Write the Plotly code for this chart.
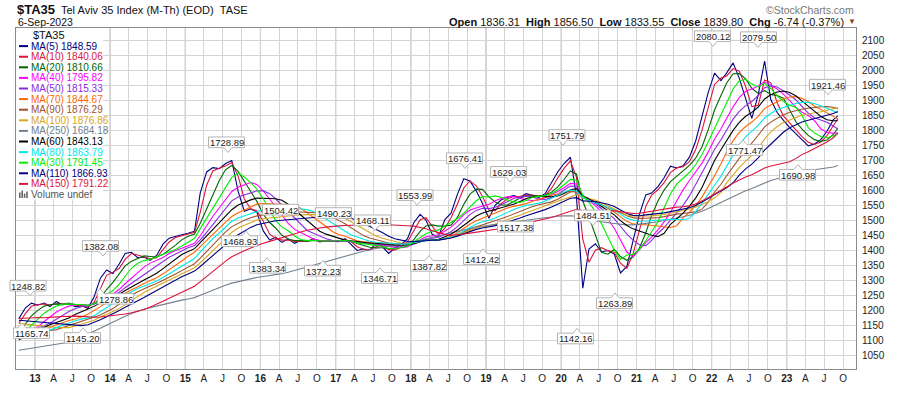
import numpy as np
import pandas as pd
import plotly.graph_objects as go

# ------------------------------------------------------------------ data
# Monthly readings of the index level (read off the MA(5) line), Oct-2012 .. Sep-2023
idx_2012 = [1175, 1212, 1225]                                   # Oct-Dec
idx_2013 = [1215, 1225, 1210, 1232, 1215, 1225, 1210, 1215, 1205, 1250, 1315, 1337]
idx_2014 = [1320, 1360, 1393, 1393, 1372, 1378, 1364, 1385, 1425, 1442, 1447, 1452]
idx_2015 = [1457, 1464, 1610, 1668, 1676, 1671, 1690, 1700, 1580, 1522, 1540, 1525]
idx_2016 = [1455, 1430, 1445, 1423, 1440, 1420, 1435, 1428, 1440, 1425, 1432, 1430]
idx_2017 = [1428, 1440, 1418, 1396, 1405, 1400, 1425, 1410, 1386, 1410, 1420, 1440]
idx_2018 = [1499, 1522, 1497, 1445, 1445, 1510, 1525, 1595, 1644, 1628, 1592, 1550]
idx_2019 = [1500, 1558, 1568, 1578, 1582, 1575, 1590, 1580, 1575, 1590, 1630, 1665]
idx_2020 = [1692, 1712, 1560, 1230, 1430, 1420, 1390, 1400, 1385, 1315, 1350, 1445]
idx_2021 = [1530, 1592, 1590, 1615, 1645, 1685, 1672, 1682, 1714, 1770, 1855, 1935]
idx_2022 = [1998, 1960, 1995, 2028, 1965, 1900, 1830, 1930, 2045, 1880, 1855, 1830]
idx_2023 = [1805, 1785, 1765, 1745, 1755, 1770, 1800, 1840, 1848.59]  # Jan-Sep

# Estimated earlier history (Nov-2007 .. Sep-2012, left of the visible window),
# needed so that the long averages start where the picture shows them
pre_2007 = [1080, 1090]
pre_2008 = [1020, 1030, 990, 1060, 1090, 1040, 990, 1000, 900, 700, 700, 670]
pre_2009 = [680, 690, 720, 780, 850, 870, 930, 960, 1020, 1060, 1080, 1110]
pre_2010 = [1200, 1180, 1230, 1250, 1150, 1150, 1180, 1190, 1230, 1270, 1280, 1280]
pre_2011 = [1290, 1250, 1240, 1290, 1280, 1230, 1220, 1090, 1050, 1100, 1070, 1080]
pre_2012 = [1090, 1130, 1130, 1110, 1050, 1070, 1090, 1120, 1150]

ma_periods = [5, 10, 20, 40, 50, 70, 90, 100, 250, 60, 80, 30, 110, 150]   # weeks
ma_last = ["1848.59", "1840.06", "1810.66", "1795.82", "1815.33", "1844.67", "1876.29",
           "1876.86", "1684.18", "1843.13", "1863.79", "1791.45", "1866.93", "1791.22"]
ma_colors = ["#000080", "#DC143C", "#006400", "#FF00FF", "#8A2BE2", "#FF6600", "#A0522D",
             "#DAA520", "#708090", "#000000", "#00E8E8", "#00EE00", "#000080", "#DC143C"]

price_labels = ["1248.82", "1165.74", "1145.20", "1382.08", "1278.86", "1728.89", "1468.93",
                "1504.42", "1383.34", "1490.23", "1372.23", "1468.11", "1346.71", "1553.99",
                "1387.82", "1676.41", "1412.42", "1629.03", "1517.38", "1751.79", "1142.16",
                "1484.51", "1263.89", "2080.12", "1771.47", "2079.50", "1690.98", "1921.46"]

y_ticks = list(range(1050, 2101, 50))
quote_names = ["Open", "High", "Low", "Close"]
quote_values = ["1836.31", "1856.50", "1833.55", "1839.80"]
chg_text = "-6.74 (-0.37%)"

# ------------------------------------------------------------------ series
pre = pre_2007 + pre_2008 + pre_2009 + pre_2010 + pre_2011 + pre_2012
chart = idx_2012 + idx_2013 + idx_2014 + idx_2015 + idx_2016 + idx_2017 + idx_2018 + \
        idx_2019 + idx_2020 + idx_2021 + idx_2022 + idx_2023
vals = np.array(pre + chart, dtype=float)
months = pd.date_range("2007-11-01", periods=len(vals), freq="MS") + pd.Timedelta(days=14)
dates = list(months)
dates[-1] = pd.Timestamp("2023-09-06")
n_pre = len(pre)


def moving_avg(v, weeks):
    w = weeks * 7 / 30.4375          # window in months
    n = int(np.floor(w))
    f = w - n
    out = np.full(len(v), np.nan)
    for i in range(len(v)):
        if i - n < 0:
            continue
        s = v[i - n + 1:i + 1].sum() + (f * v[i - n] if f > 0 else 0.0)
        out[i] = s / w
    return out


fig = go.Figure()
for p, c in zip(ma_periods, ma_colors):
    ma = moving_avg(vals, p)
    fig.add_trace(go.Scatter(x=dates[n_pre:], y=ma[n_pre:], mode="lines",
                             line=dict(color=c, width=1.1), showlegend=False,
                             hoverinfo="skip"))

# ------------------------------------------------------------------ layout helpers
PL, PR, PT, PB = 16, 856, 28, 380
W, H = 900, 396


def xp(px):
    return (px - PL) / (PR - PL)


def yp(py):
    return (PB - py) / (PB - PT)


FONT = "Liberation Sans, Arial, sans-serif"
shapes = []
annots = []

# year separators (darker)
for yr in range(2013, 2024):
    shapes.append(dict(type="line", xref="x", yref="paper", x0=f"{yr}-01-01", x1=f"{yr}-01-01",
                       y0=0, y1=1, line=dict(color="#a8a8a8", width=1), layer="between"))

# legend background
shapes.append(dict(type="rect", xref="paper", yref="paper", x0=xp(PL + 0.5), x1=xp(103),
                   y0=yp(205), y1=yp(PT + 0.5), fillcolor="white", line=dict(width=0),
                   layer="above"))
annots.append(dict(x=xp(31), y=yp(35), xref="paper", yref="paper", text="$TA35",
                   showarrow=False, xanchor="left", yanchor="middle",
                   font=dict(family=FONT, size=11, color="#111")))
for k, (p, c, last) in enumerate(zip(ma_periods, ma_colors, ma_last)):
    cy = 46.7 + 10.94 * k
    shapes.append(dict(type="line", xref="paper", yref="paper", x0=xp(19), x1=xp(28),
                       y0=yp(cy), y1=yp(cy), line=dict(color=c, width=2), layer="above"))
    annots.append(dict(x=xp(28.5), y=yp(cy), xref="paper", yref="paper",
                       text=f"MA({p}) {last}", showarrow=False, xanchor="left",
                       yanchor="middle", font=dict(family=FONT, size=10, color=c)))
vol_y = 46.7 + 10.94 * 14
for (a, b, top) in [(19, 20.6, vol_y - 2), (21.4, 23, vol_y - 4), (23.8, 25.4, vol_y - 1),
                    (26.2, 27.8, vol_y - 3)]:
    shapes.append(dict(type="rect", xref="paper", yref="paper", x0=xp(a), x1=xp(b),
                       y0=yp(vol_y + 3.5), y1=yp(top), fillcolor="#666", line=dict(width=0),
                       layer="above"))
annots.append(dict(x=xp(28.5), y=yp(vol_y), xref="paper", yref="paper", text="Volume undef",
                   showarrow=False, xanchor="left", yanchor="middle",
                   font=dict(family=FONT, size=10, color="#555")))

# price callouts: centre (px, py), pointer x, pointer direction
label_pos = [(28, 294, 30, "down"), (31.5, 343, 22, "up"), (82.5, 348, 83, "up"),
             (100.5, 253, 103, "down"), (115.5, 307.5, 100, "up"), (226.5, 146, 228, "down"),
             (239.5, 248, 246, "up"), (280.5, 215.5, None, None), (267.5, 275.5, 267, "up"),
             (333.5, 219, None, None), (322.5, 278.5, 323, "up"), (372.5, 226.5, 375, "down"),
             (379.5, 286, 380, "up"), (415, 200.5, 417, "down"), (428.5, 273.5, 429, "up"),
             (464.5, 162.5, 465, "down"), (481.5, 266.5, 483, "up"), (508.5, 176.5, 510, "down"),
             (515.5, 233, None, None), (567, 138.5, 563, "down"), (575.5, 348.5, 577, "up"),
             (592.5, 221.5, 593, "down"), (614.5, 312, 615, "up"), (712.5, 36.5, 713, "down"),
             (744.5, 154, 743, "up"), (758.5, 37.5, 758, "down"), (797.5, 179.5, 798, "up"),
             (827.5, 86.5, 828, "down")]
for txt, (cx, cy, ptr, d) in zip(price_labels, label_pos):
    bw, bh = 36, 11
    x0, x1 = cx - bw / 2, cx + bw / 2
    y0, y1 = cy - bh / 2, cy + bh / 2
    pts = [(x0, y0)]
    if d == "up":
        pts += [(ptr - 4, y0), (ptr, y0 - 5), (ptr + 4, y0)]
    pts += [(x1, y0), (x1, y1)]
    if d == "down":
        pts += [(ptr + 4, y1), (ptr, y1 + 5), (ptr - 4, y1)]
    pts += [(x0, y1)]
    path = "M " + " L ".join(f"{xp(a):.5f},{yp(b):.5f}" for a, b in pts) + " Z"
    shapes.append(dict(type="path", xref="paper", yref="paper", path=path,
                       fillcolor="white", line=dict(color="#b4b4b4", width=1), layer="above"))
    annots.append(dict(x=xp(cx), y=yp(cy + 0.5), xref="paper", yref="paper", text=txt,
                       showarrow=False, xanchor="center", yanchor="middle",
                       font=dict(family=FONT, size=9.5, color="#222")))

# header
annots.append(dict(x=xp(15), y=yp(9), xref="paper", yref="paper", text="<b>$TA35</b>",
                   showarrow=False, xanchor="left", yanchor="middle",
                   font=dict(family=FONT, size=13, color="#111")))
annots.append(dict(x=xp(59), y=yp(9.5), xref="paper", yref="paper",
                   text="Tel Aviv 35 Index (M-Th) (EOD)&nbsp;&nbsp;TASE",
                   showarrow=False, xanchor="left", yanchor="middle",
                   font=dict(family=FONT, size=11, color="#111")))
annots.append(dict(x=xp(16), y=yp(22), xref="paper", yref="paper", text="6-Sep-2023",
                   showarrow=False, xanchor="left", yanchor="middle",
                   font=dict(family=FONT, size=10.5, color="#111")))
annots.append(dict(x=xp(856), y=yp(9), xref="paper", yref="paper", text="©StockCharts.com",
                   showarrow=False, xanchor="right", yanchor="middle",
                   font=dict(family=FONT, size=10.5, color="#777")))
quote = "&nbsp;&nbsp;".join(f"<b>{n}</b> {v}" for n, v in zip(quote_names, quote_values))
quote += f"&nbsp;&nbsp;<b>Chg</b> {chg_text}"
annots.append(dict(x=xp(846), y=yp(21.5), xref="paper", yref="paper", text=quote,
                   showarrow=False, xanchor="right", yanchor="middle",
                   font=dict(family=FONT, size=11, color="#111")))
annots.append(dict(x=xp(852), y=yp(21.5), xref="paper", yref="paper", text="▼",
                   showarrow=False, xanchor="center", yanchor="middle",
                   font=dict(family=FONT, size=8, color="#8B4513")))

# x ticks: quarters
qdates = pd.date_range("2013-01-01", "2023-10-01", freq="QS")
qtext = [f"<b>{d.year % 100:02d}</b>" if d.month == 1 else {4: "A", 7: "J", 10: "O"}[d.month]
         for d in qdates]

fig.update_layout(
    width=W, height=H,
    margin=dict(l=PL, r=W - PR, t=PT, b=H - PB),
    paper_bgcolor="white", plot_bgcolor="white",
    showlegend=False,
    shapes=shapes, annotations=annots,
    xaxis=dict(type="date", range=["2012-10-01", "2023-12-03"], tickvals=list(qdates),
               ticktext=qtext, showgrid=True, gridcolor="#d4d4d4", gridwidth=1,
               showline=True, mirror=True, linecolor="#8c8c8c", linewidth=1,
               ticks="", tickfont=dict(family=FONT, size=10, color="#222"),
               zeroline=False, fixedrange=True),
    yaxis=dict(side="right", range=[1004, 2140], tickvals=y_ticks,
               ticktext=[str(v) for v in y_ticks], showgrid=True, gridcolor="#d4d4d4",
               gridwidth=1, showline=True, mirror=True, linecolor="#8c8c8c", linewidth=1,
               ticks="", ticklabelstandoff=3,
               tickfont=dict(family=FONT, size=10, color="#222"), zeroline=False,
               fixedrange=True),
)

fig.write_html("out.html", config={"displayModeBar": False, "staticPlot": True},
               post_script="document.body.style.margin='0';document.body.style.overflow='hidden';")
